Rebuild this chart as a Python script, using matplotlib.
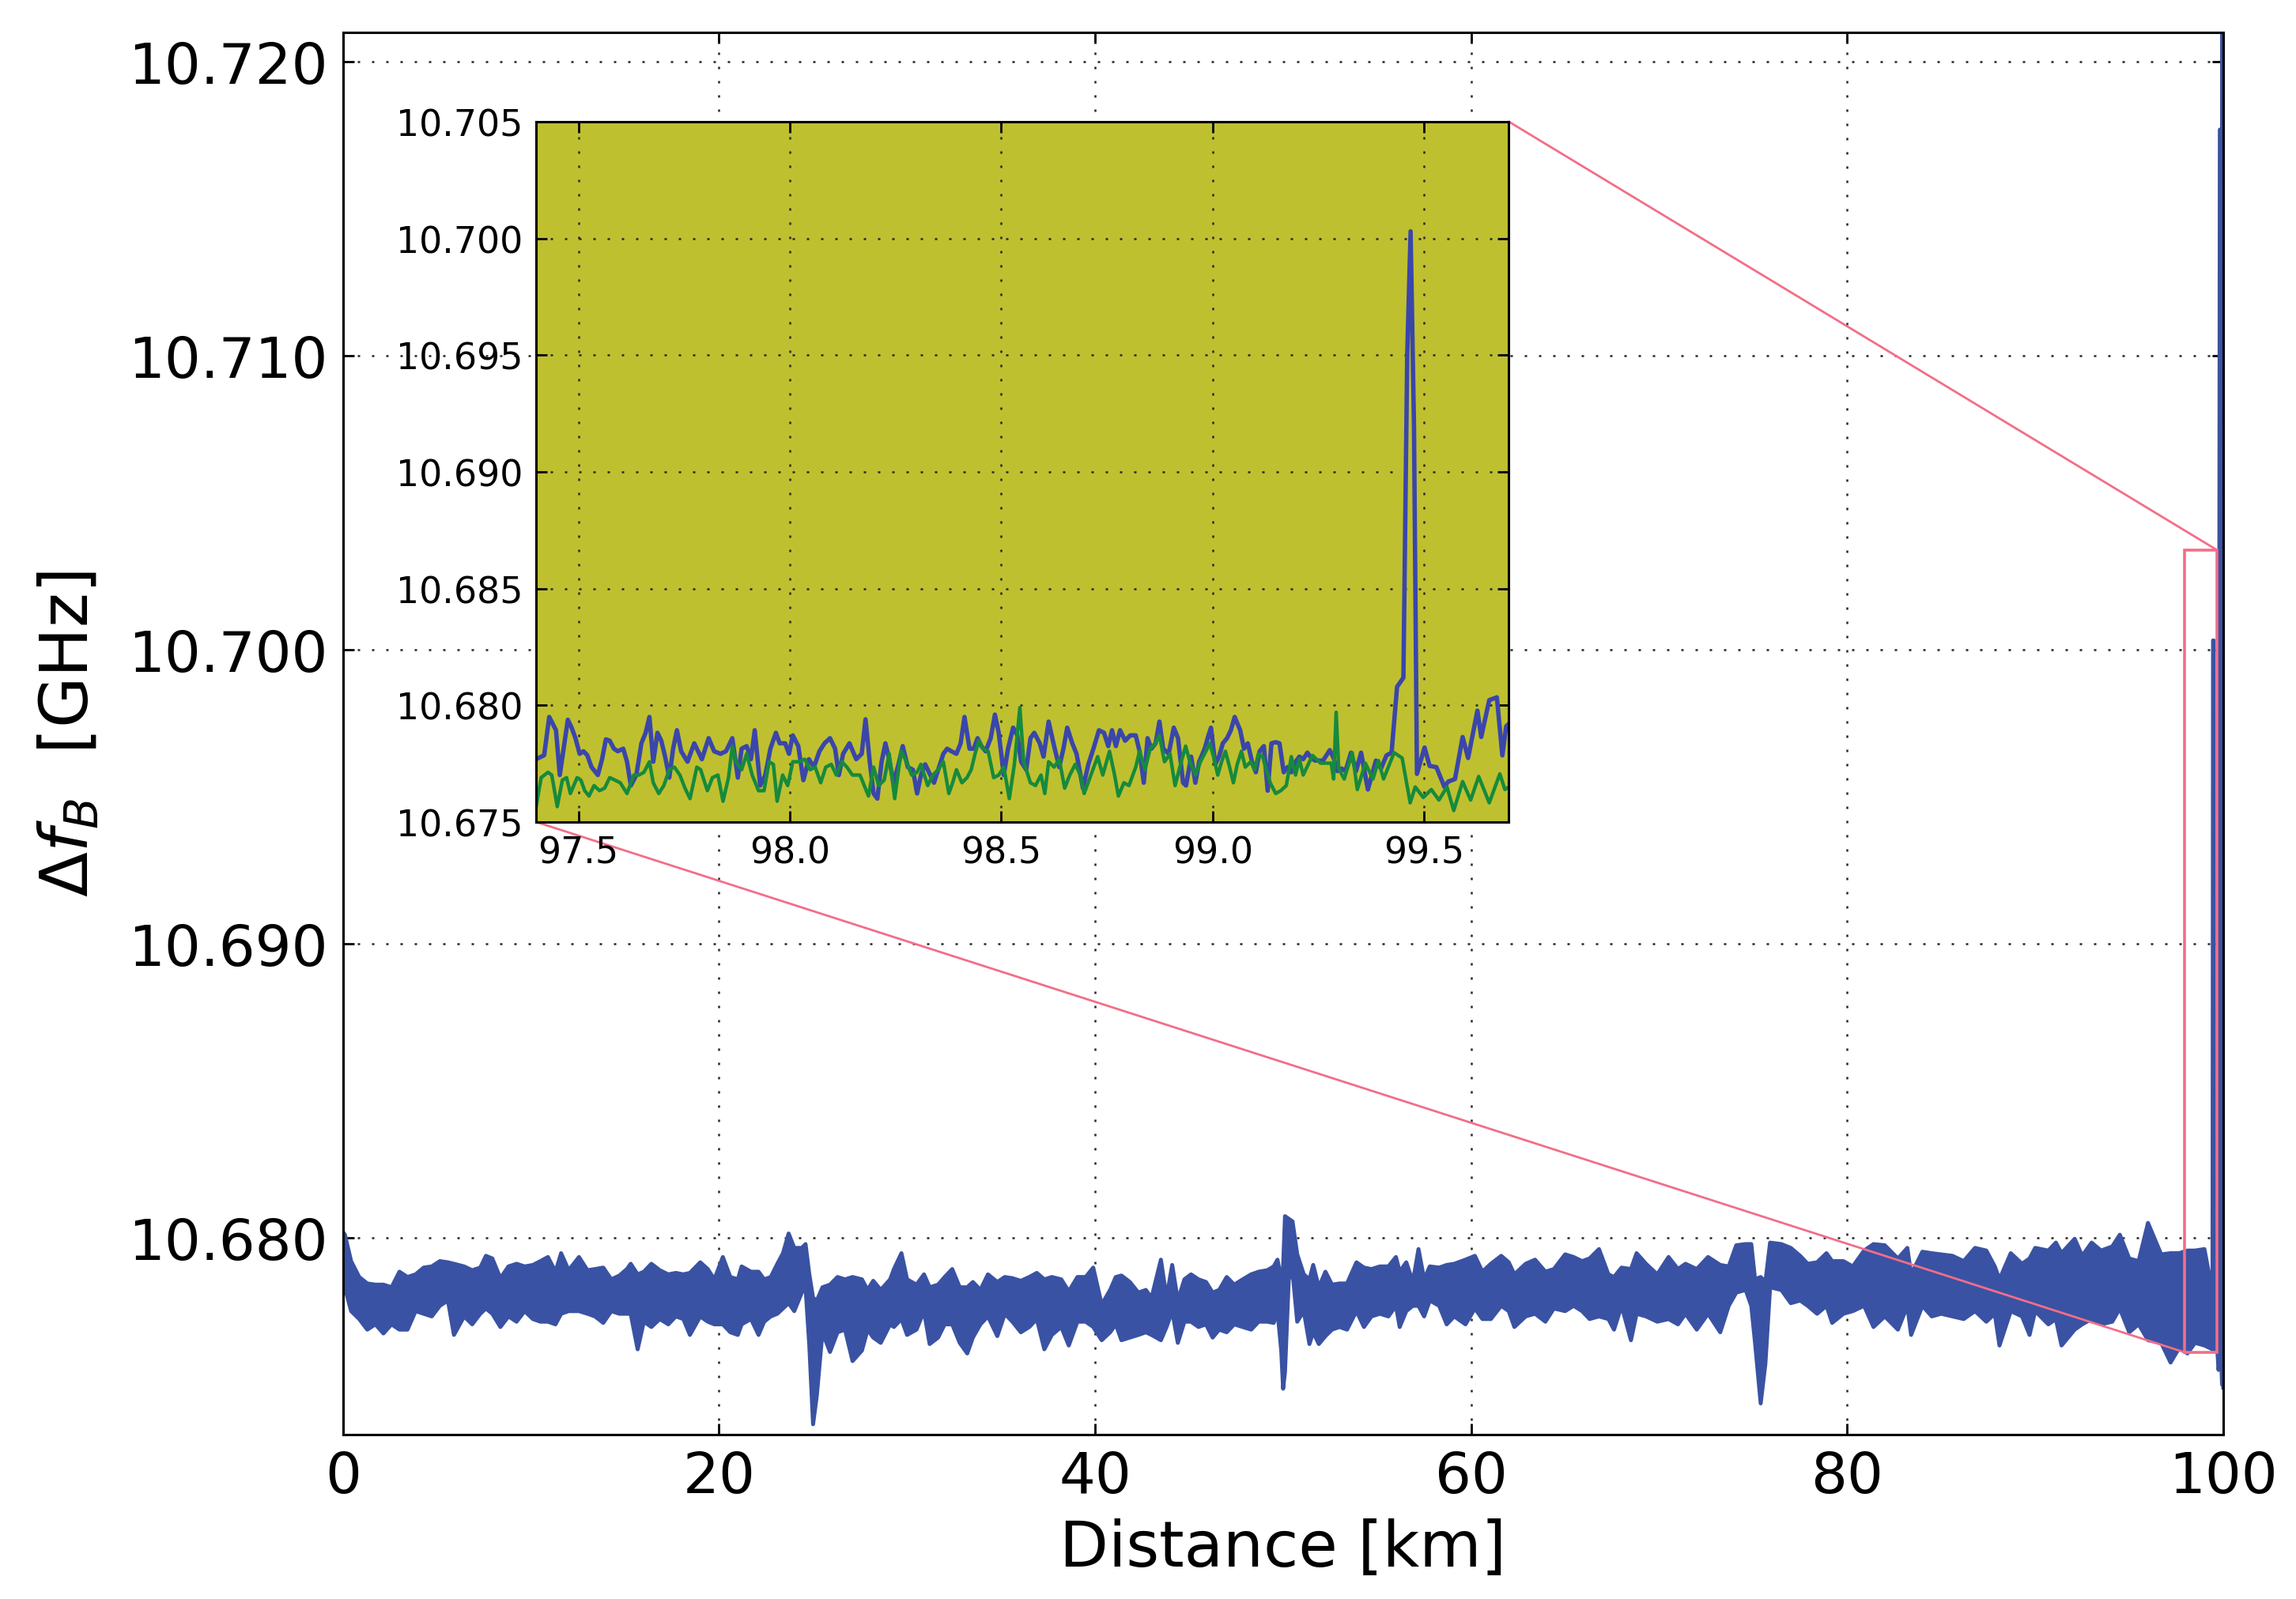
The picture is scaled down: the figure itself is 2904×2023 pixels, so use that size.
import numpy as np
import matplotlib
matplotlib.use('Agg')
import matplotlib.pyplot as plt
from matplotlib.patches import Rectangle, ConnectionPatch
from matplotlib.ticker import FormatStrFormatter

plt.rcParams['font.family'] = ['DejaVu Sans']
plt.rcParams['mathtext.fontset'] = 'dejavusans'

## data: frequencies are stored as MHz above 10.670 GHz
BASE_GHZ = 10.670

# main trace, noise band: (km, upper MHz, lower MHz)
main_band = np.array([
    (0.0, 10.19, 9.70), (0.1, 10.10, 8.30), (0.43, 9.20, 7.50), (0.86, 8.66, 7.23), (1.29, 8.44, 6.87),
    (1.72, 8.40, 7.05), (2.15, 8.40, 6.74), (2.58, 8.31, 7.05), (3.0, 8.84, 6.87), (3.43, 8.66, 6.87),
    (3.86, 8.75, 7.50), (4.29, 8.98, 7.41), (4.72, 9.02, 7.32), (5.15, 9.20, 7.68), (5.58, 9.16, 7.86),
    (5.9, 9.11, 6.69), (6.44, 9.02, 7.32), (6.87, 8.89, 7.05), (7.3, 8.98, 7.41), (7.6, 9.38, 7.59),
    (7.94, 9.29, 7.41), (8.37, 8.62, 6.96), (8.8, 9.02, 7.32), (9.23, 9.11, 7.14), (9.66, 9.02, 7.50),
    (10.1, 9.07, 7.23), (10.5, 9.20, 7.14), (10.9, 9.34, 7.14), (11.3, 8.84, 7.05), (11.6, 9.47, 7.41),
    (12.0, 8.89, 7.50), (12.55, 9.34, 7.50), (13.0, 8.89, 7.41), (13.4, 8.93, 7.32), (13.84, 8.98, 7.10),
    (14.27, 8.58, 7.50), (14.7, 8.71, 7.41), (15.1, 8.93, 7.41), (15.3, 9.11, 7.41), (15.67, 8.75, 6.20),
    (16.0, 8.84, 7.14), (16.4, 9.11, 6.96), (16.85, 8.89, 7.23), (17.3, 8.75, 7.05), (17.7, 8.80, 7.32),
    (18.1, 8.75, 7.23), (18.45, 8.80, 6.69), (19.0, 9.16, 7.32), (19.4, 8.93, 7.14), (19.75, 8.58, 7.05),
    (20.2, 9.34, 7.05), (20.6, 8.66, 6.78), (21.0, 8.58, 6.69), (21.2, 9.02, 7.05), (21.7, 8.84, 7.23),
    (22.1, 8.84, 6.69), (22.4, 8.58, 7.14), (22.75, 8.66, 7.32), (23.1, 9.11, 7.41), (23.4, 9.47, 7.59),
    (23.7, 10.14, 7.77), (24.0, 9.65, 7.50), (24.4, 9.65, 8.13), (24.6, 9.78, 8.31), (24.8, 8.75, 6.33),
    (25.0, 7.95, 3.65), (25.2, 7.86, 4.63), (25.5, 8.31, 6.78), (25.9, 8.40, 6.11), (26.3, 8.66, 6.78),
    (26.7, 8.58, 6.87), (27.1, 8.66, 5.80), (27.6, 8.58, 6.16), (27.9, 8.22, 6.87), (28.2, 8.53, 6.60),
    (28.6, 8.22, 6.42), (29.1, 8.58, 7.05), (29.3, 8.93, 6.96), (29.7, 9.47, 7.23), (30.0, 8.58, 6.69),
    (30.5, 8.40, 6.87), (30.9, 8.75, 7.50), (31.2, 8.31, 6.38), (31.65, 8.40, 6.60), (32.0, 8.66, 7.05),
    (32.4, 8.93, 7.05), (32.8, 8.31, 6.42), (33.2, 8.31, 6.06), (33.5, 8.49, 6.60), (33.9, 8.22, 7.05),
    (34.3, 8.75, 7.32), (34.8, 8.49, 6.65), (35.2, 8.66, 7.41), (35.6, 8.62, 7.14), (36.05, 8.53, 6.78),
    (36.5, 8.66, 6.96), (36.9, 8.80, 7.23), (37.3, 8.58, 6.20), (37.7, 8.66, 6.69), (38.2, 8.58, 6.96),
    (38.6, 8.17, 6.33), (39.06, 8.66, 7.14), (39.5, 8.66, 7.14), (39.9, 8.98, 6.96), (40.35, 7.72, 6.51),
    (40.8, 8.22, 6.78), (41.1, 8.66, 7.05), (41.4, 8.71, 6.51), (41.85, 8.49, 6.60), (42.3, 8.13, 6.69),
    (42.7, 8.22, 6.78), (43.0, 7.95, 6.69), (43.5, 9.25, 6.51), (43.8, 7.95, 6.96), (44.1, 9.07, 7.50),
    (44.4, 7.86, 6.42), (44.75, 8.58, 7.14), (45.1, 8.75, 7.14), (45.5, 8.58, 6.96), (45.9, 8.49, 7.05),
    (46.25, 8.13, 6.60), (46.6, 8.22, 6.87), (47.0, 8.66, 6.78), (47.4, 8.40, 7.05), (47.85, 8.58, 6.96),
    (48.3, 8.75, 6.87), (48.7, 8.84, 7.14), (49.15, 8.89, 7.14), (49.5, 9.02, 7.10), (49.7, 9.25, 7.50),
    (49.9, 8.58, 6.16), (50.0, 9.02, 4.86), (50.1, 10.73, 5.44), (50.3, 10.64, 8.58), (50.5, 10.55, 8.84),
    (50.75, 9.43, 7.14), (51.1, 8.75, 7.50), (51.4, 8.58, 6.38), (51.6, 9.07, 6.78), (51.9, 8.31, 6.38),
    (52.25, 8.84, 6.65), (52.6, 8.40, 6.87), (53.0, 8.44, 6.96), (53.4, 8.44, 6.87), (53.9, 9.16, 7.50),
    (54.3, 8.98, 6.96), (54.7, 8.93, 7.32), (55.15, 9.02, 7.41), (55.6, 9.02, 7.32), (56.0, 9.34, 7.68),
    (56.2, 8.84, 6.96), (56.55, 9.16, 7.50), (56.9, 8.49, 7.68), (57.2, 9.61, 7.68), (57.5, 8.58, 7.32),
    (57.8, 9.02, 7.86), (58.3, 8.98, 7.68), (58.7, 9.07, 7.05), (59.1, 9.11, 7.32), (59.7, 9.25, 7.05),
    (60.2, 9.38, 7.59), (60.6, 8.84, 7.23), (61.05, 9.11, 7.23), (61.6, 9.38, 7.68), (62.0, 9.16, 7.50),
    (62.3, 8.75, 6.96), (62.9, 9.11, 7.32), (63.4, 9.25, 7.41), (63.95, 8.84, 7.14), (64.4, 8.93, 7.59),
    (65.0, 9.43, 7.50), (65.45, 9.34, 7.68), (65.9, 9.20, 7.50), (66.3, 9.29, 7.23), (66.8, 9.61, 7.32),
    (67.3, 8.75, 7.23), (67.6, 8.66, 6.87), (68.0, 8.98, 7.68), (68.5, 8.93, 6.51), (68.8, 9.47, 7.41),
    (69.3, 9.11, 7.32), (69.9, 8.75, 7.14), (70.5, 9.34, 7.23), (71.0, 8.93, 7.05), (71.4, 9.11, 7.41),
    (72.0, 8.93, 6.87), (72.6, 9.34, 7.41), (73.25, 9.07, 6.78), (73.7, 9.02, 7.68), (74.1, 9.74, 8.13),
    (74.6, 9.78, 8.22), (74.9, 9.78, 7.68), (75.1, 8.58, 6.42), (75.4, 8.66, 4.36), (75.65, 8.49, 5.71),
    (75.9, 9.83, 8.31), (76.5, 9.78, 8.22), (77.0, 9.65, 7.77), (77.5, 9.38, 7.86), (77.9, 9.11, 7.68),
    (78.4, 9.16, 7.41), (78.9, 9.47, 7.68), (79.2, 9.20, 7.10), (79.8, 9.20, 7.41), (80.3, 9.02, 7.50),
    (80.9, 9.56, 7.68), (81.4, 9.78, 6.96), (82.0, 9.74, 7.32), (82.7, 9.29, 6.87), (83.2, 9.65, 7.68),
    (83.4, 8.75, 6.69), (84.0, 9.52, 7.68), (84.5, 9.47, 7.32), (85.0, 9.43, 7.41), (85.6, 9.38, 7.32),
    (86.2, 9.20, 7.23), (86.8, 9.65, 7.50), (87.4, 9.56, 7.14), (87.85, 9.02, 7.41), (88.1, 8.58, 6.33),
    (88.7, 9.47, 7.50), (89.3, 9.11, 7.32), (89.7, 9.29, 6.69), (90.0, 9.65, 7.50), (90.7, 9.56, 7.05),
    (91.1, 9.83, 7.23), (91.4, 9.47, 6.33), (92.1, 9.96, 6.87), (92.5, 9.38, 7.05), (93.0, 9.83, 7.23),
    (93.5, 9.56, 7.05), (94.1, 9.70, 7.14), (94.5, 10.10, 7.59), (95.0, 9.29, 6.78), (95.5, 9.20, 7.05),
    (96.0, 10.50, 6.51), (96.7, 9.43, 6.42), (97.2, 9.47, 5.75), (97.65, 9.47, 6.24), (98.1, 9.56, 6.06),
    (98.5, 9.56, 6.42), (99.0, 9.61, 6.33), (99.3, 8.58, 6.24), (99.43, 8.10, 6.20), (99.46, 30.32, 6.30),
    (99.49, 30.32, 6.30), (99.52, 8.00, 6.20), (99.65, 10.30, 6.60), (99.75, 9.00, 5.50), (99.82, 47.70, 6.00),
    (99.87, 47.70, 6.00), (99.91, 10.00, 5.50), (99.94, 51.50, 5.00), (99.99, 51.50, 5.00), (100.0, 5.00, 4.90),
])

# inset, 97.4 - 99.7 km: (km, MHz)
inset_blue = np.array([
    (97.400, 7.69), (97.419, 7.86), (97.431, 9.50), (97.447, 8.93), (97.456, 7.01), (97.465, 8.14),
    (97.475, 9.38), (97.484, 9.04), (97.493, 8.59), (97.503, 7.92), (97.512, 8.03), (97.521, 7.86),
    (97.531, 7.35), (97.546, 7.01), (97.556, 7.69), (97.565, 8.54), (97.574, 8.48), (97.584, 8.14),
    (97.593, 8.03), (97.606, 8.14), (97.615, 7.58), (97.624, 6.56), (97.637, 7.01), (97.649, 8.37),
    (97.659, 8.82), (97.668, 9.50), (97.677, 7.58), (97.687, 8.82), (97.696, 8.48), (97.705, 7.80),
    (97.715, 6.90), (97.724, 8.14), (97.733, 8.93), (97.743, 8.03), (97.758, 7.58), (97.774, 8.37),
    (97.783, 8.03), (97.792, 7.69), (97.808, 8.59), (97.821, 8.03), (97.836, 7.92), (97.849, 8.03),
    (97.864, 8.59), (97.877, 6.90), (97.886, 8.14), (97.898, 8.25), (97.908, 7.69), (97.917, 8.93),
    (97.930, 6.56), (97.942, 7.01), (97.954, 8.14), (97.967, 8.82), (97.976, 8.37), (97.989, 8.37),
    (97.998, 7.92), (98.007, 8.71), (98.020, 8.25), (98.032, 6.79), (98.045, 7.69), (98.057, 7.35),
    (98.070, 8.03), (98.082, 8.37), (98.095, 8.59), (98.107, 8.14), (98.116, 7.01), (98.126, 7.92),
    (98.141, 8.37), (98.157, 7.69), (98.170, 7.92), (98.179, 9.40), (98.189, 7.58), (98.198, 6.22),
    (98.207, 6.00), (98.217, 7.58), (98.226, 8.37), (98.235, 7.69), (98.245, 6.68), (98.257, 7.47),
    (98.267, 8.25), (98.279, 7.35), (98.291, 7.24), (98.301, 6.22), (98.310, 7.01), (98.320, 7.47),
    (98.329, 7.13), (98.341, 6.68), (98.351, 7.24), (98.363, 7.92), (98.372, 8.14), (98.382, 8.03),
    (98.394, 7.92), (98.404, 8.37), (98.413, 9.50), (98.425, 8.14), (98.435, 8.14), (98.444, 8.59),
    (98.453, 8.25), (98.463, 8.03), (98.475, 8.59), (98.485, 9.60), (98.494, 8.82), (98.506, 7.01),
    (98.516, 8.14), (98.528, 9.04), (98.538, 8.71), (98.547, 7.58), (98.559, 7.24), (98.569, 8.59),
    (98.578, 8.82), (98.591, 8.37), (98.600, 7.80), (98.612, 9.30), (98.625, 8.25), (98.637, 7.35),
    (98.647, 8.14), (98.656, 9.04), (98.668, 8.37), (98.678, 7.92), (98.693, 6.45), (98.706, 7.47),
    (98.718, 8.14), (98.731, 8.93), (98.743, 8.82), (98.753, 8.25), (98.762, 8.93), (98.771, 8.25),
    (98.781, 8.93), (98.793, 8.48), (98.805, 8.71), (98.818, 8.71), (98.827, 8.03), (98.837, 6.68),
    (98.846, 8.59), (98.855, 8.14), (98.865, 8.37), (98.874, 9.30), (98.883, 8.14), (98.896, 7.92),
    (98.908, 9.04), (98.918, 8.59), (98.930, 6.68), (98.937, 6.56), (98.949, 7.80), (98.959, 6.68),
    (98.968, 7.58), (98.981, 8.14), (98.990, 8.71), (98.996, 9.04), (99.006, 7.47), (99.015, 7.80),
    (99.024, 8.37), (99.034, 8.59), (99.043, 8.93), (99.052, 9.50), (99.065, 8.93), (99.074, 8.14),
    (99.083, 8.37), (99.093, 7.58), (99.102, 7.13), (99.111, 8.03), (99.121, 8.25), (99.130, 6.34),
    (99.139, 8.37), (99.149, 8.42), (99.158, 8.37), (99.168, 7.13), (99.177, 7.35), (99.186, 7.13),
    (99.196, 7.58), (99.205, 7.80), (99.214, 7.69), (99.224, 7.97), (99.233, 7.74), (99.242, 7.63),
    (99.261, 7.63), (99.277, 8.08), (99.286, 7.74), (99.295, 7.18), (99.305, 7.29), (99.314, 7.18),
    (99.327, 7.97), (99.339, 7.18), (99.351, 7.97), (99.367, 6.39), (99.386, 7.63), (99.398, 7.29),
    (99.411, 7.85), (99.423, 7.97), (99.436, 10.79), (99.451, 11.18), (99.460, 25.00), (99.468, 30.30),
    (99.476, 22.00), (99.483, 7.06), (99.501, 8.19), (99.513, 7.40), (99.529, 7.35), (99.548, 6.50),
    (99.557, 6.73), (99.573, 6.84), (99.591, 8.64), (99.604, 7.74), (99.626, 9.77), (99.635, 8.64),
    (99.654, 10.22), (99.672, 10.34), (99.685, 7.85), (99.694, 9.10), (99.700, 9.20),
])

inset_green = np.array([
    (97.400, 5.66), (97.412, 6.90), (97.428, 7.13), (97.437, 7.01), (97.450, 5.66), (97.462, 6.79),
    (97.472, 6.90), (97.481, 6.22), (97.497, 6.90), (97.506, 6.79), (97.515, 6.34), (97.525, 6.11),
    (97.537, 6.56), (97.550, 6.34), (97.562, 6.45), (97.574, 6.90), (97.587, 6.79), (97.599, 6.68),
    (97.615, 6.22), (97.631, 7.01), (97.643, 7.01), (97.655, 7.13), (97.668, 7.58), (97.677, 6.68),
    (97.690, 6.22), (97.702, 6.56), (97.715, 7.24), (97.727, 7.35), (97.740, 7.01), (97.752, 6.45),
    (97.764, 6.00), (97.780, 7.35), (97.789, 7.24), (97.805, 6.34), (97.817, 6.90), (97.830, 7.01),
    (97.842, 5.89), (97.855, 6.90), (97.864, 8.25), (97.873, 7.58), (97.886, 7.24), (97.898, 7.92),
    (97.911, 7.01), (97.926, 6.34), (97.939, 6.34), (97.951, 7.58), (97.961, 7.47), (97.970, 5.89),
    (97.983, 7.01), (97.995, 6.56), (98.007, 7.58), (98.023, 7.58), (98.035, 7.69), (98.048, 7.24),
    (98.060, 7.35), (98.073, 6.68), (98.085, 7.35), (98.098, 7.47), (98.110, 7.01), (98.123, 7.58),
    (98.135, 7.35), (98.148, 7.01), (98.166, 7.01), (98.186, 6.11), (98.198, 7.35), (98.210, 6.56),
    (98.223, 6.79), (98.235, 7.92), (98.248, 6.00), (98.263, 8.03), (98.276, 7.58), (98.288, 7.01),
    (98.301, 7.13), (98.310, 7.47), (98.326, 6.56), (98.338, 7.01), (98.351, 7.24), (98.363, 7.58),
    (98.376, 6.22), (98.385, 6.68), (98.394, 7.24), (98.407, 6.68), (98.419, 6.90), (98.429, 7.24),
    (98.438, 7.92), (98.447, 8.48), (98.457, 8.14), (98.469, 8.03), (98.482, 6.90), (98.494, 7.01),
    (98.506, 7.35), (98.519, 6.00), (98.531, 7.47), (98.544, 9.90), (98.553, 7.58), (98.569, 6.68),
    (98.581, 6.56), (98.594, 7.01), (98.603, 6.22), (98.612, 7.58), (98.625, 7.35), (98.637, 7.69),
    (98.650, 6.45), (98.662, 7.01), (98.675, 7.47), (98.687, 7.01), (98.696, 6.22), (98.712, 7.01),
    (98.728, 7.80), (98.740, 7.01), (98.756, 8.03), (98.768, 7.01), (98.777, 6.11), (98.790, 6.68),
    (98.802, 6.56), (98.818, 7.35), (98.827, 8.03), (98.840, 7.24), (98.852, 8.14), (98.865, 8.37),
    (98.874, 8.71), (98.886, 7.58), (98.899, 7.92), (98.911, 6.56), (98.924, 7.47), (98.936, 8.25),
    (98.946, 7.58), (98.959, 7.01), (98.971, 7.58), (98.984, 8.03), (98.993, 8.37), (99.002, 7.80),
    (99.012, 7.01), (99.021, 7.58), (99.030, 8.03), (99.040, 7.35), (99.049, 6.68), (99.058, 7.47),
    (99.068, 8.03), (99.077, 7.35), (99.090, 7.58), (99.099, 7.24), (99.108, 7.92), (99.118, 7.80),
    (99.127, 7.24), (99.136, 6.68), (99.149, 6.22), (99.161, 6.34), (99.174, 6.56), (99.186, 7.80),
    (99.196, 7.01), (99.205, 7.69), (99.214, 7.01), (99.236, 7.85), (99.255, 7.52), (99.280, 7.52),
    (99.286, 6.84), (99.292, 9.70), (99.298, 7.29), (99.311, 6.84), (99.330, 7.97), (99.342, 6.39),
    (99.361, 7.52), (99.379, 6.84), (99.392, 7.63), (99.404, 6.84), (99.429, 7.97), (99.448, 7.74),
    (99.467, 5.82), (99.479, 6.50), (99.498, 6.05), (99.517, 6.39), (99.535, 5.94), (99.554, 6.50),
    (99.570, 5.49), (99.591, 6.73), (99.610, 5.94), (99.629, 6.95), (99.654, 5.82), (99.679, 7.06),
    (99.691, 6.39), (99.700, 6.50),
])

# zoom box drawn on the main axes
box_km = (97.94, 99.66)
box_ghz = (10.6761, 10.7034)

main_xticks = [0, 20, 40, 60, 80, 100]
main_yticks = [10.680, 10.690, 10.700, 10.710, 10.720]
inset_xticks = [97.5, 98.0, 98.5, 99.0, 99.5]
inset_yticks = [10.675, 10.680, 10.685, 10.690, 10.695, 10.700, 10.705]

blue = '#3a52a3'
inset_blue_c = '#3a46aa'
green = '#168a3c'
olive = '#bfc030'
pink = '#f26e88'
grid_style = dict(color='0.15', linestyle=(0, (1.2, 6)), linewidth=0.9)


def ghz(mhz):
    return BASE_GHZ + mhz / 1000.0


fig = plt.figure(figsize=(14.52, 10.12), dpi=200)
fig.patch.set_facecolor('white')

## main axes
ax = fig.add_axes([0.1494, 0.1028, 0.8189, 0.8763])
km = main_band[:, 0]
up = ghz(main_band[:, 1])
lo = ghz(main_band[:, 2])
ax.fill_between(km, lo, up, color=blue, linewidth=0, zorder=2)
ax.plot(km, up, color=blue, lw=1.8, zorder=2)
ax.plot(km, lo, color=blue, lw=1.8, zorder=2)

ax.set_xlim(0, 100)
ax.set_ylim(10.6733, 10.721)
ax.set_xticks(main_xticks)
ax.set_yticks(main_yticks)
ax.yaxis.set_major_formatter(FormatStrFormatter('%.3f'))
ax.tick_params(direction='in', top=True, right=True, length=5, width=1,
               labelsize=26, pad=7)
ax.grid(True, **grid_style)
for s in ax.spines.values():
    s.set_linewidth(1.1)
ax.set_xlabel('Distance [km]', fontsize=29, labelpad=6)
ax.set_ylabel(r'$\Delta f_B$  [GHz]', fontsize=30, labelpad=12)

# zoom box on the main trace
ax.add_patch(Rectangle((box_km[0], box_ghz[0]), box_km[1] - box_km[0], box_ghz[1] - box_ghz[0],
                       fill=False, edgecolor=pink, lw=1.3, zorder=3))

## inset
axin = fig.add_axes([0.2335, 0.4857, 0.4236, 0.4378], facecolor=olive)
axin.plot(inset_blue[:, 0], ghz(inset_blue[:, 1]), color=inset_blue_c, lw=2.0)
axin.plot(inset_green[:, 0], ghz(inset_green[:, 1]), color=green, lw=1.6)
axin.set_xlim(97.4, 99.7)
axin.set_ylim(10.675, 10.705)
axin.set_xticks(inset_xticks)
axin.set_yticks(inset_yticks)
axin.xaxis.set_major_formatter(FormatStrFormatter('%.1f'))
axin.yaxis.set_major_formatter(FormatStrFormatter('%.3f'))
axin.tick_params(direction='in', top=True, right=True, length=5, width=1,
                 labelsize=16.5, pad=6)
axin.grid(True, **grid_style)
for s in axin.spines.values():
    s.set_linewidth(1.1)

# lines from inset corners to the zoom box
for corner_in, corner_main in [((99.7, 10.705), (box_km[1], box_ghz[1])),
                               ((97.4, 10.675), (box_km[0], box_ghz[0]))]:
    con = ConnectionPatch(xyA=corner_in, coordsA=axin.transData,
                          xyB=corner_main, coordsB=ax.transData,
                          color=pink, lw=1.0, zorder=3)
    ax.add_artist(con)

fig.savefig('out.png', dpi=200, facecolor='white')
